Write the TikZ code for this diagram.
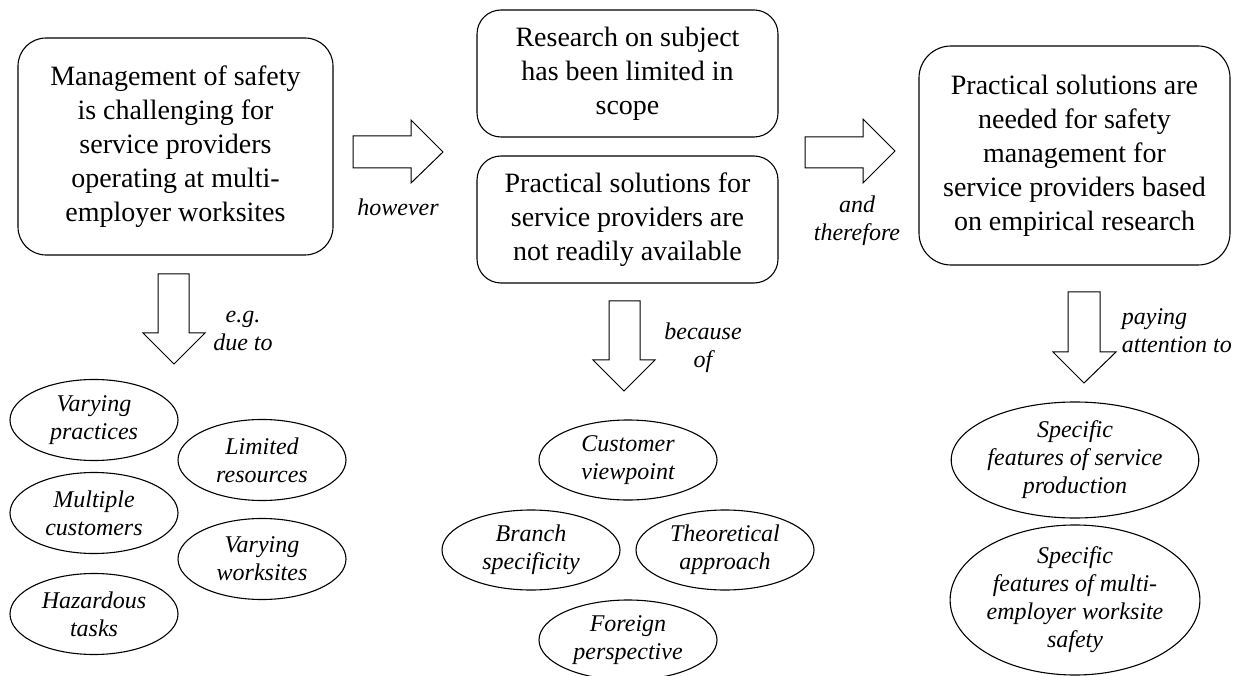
\documentclass[tikz,border=0pt]{standalone}
\usepackage{fontspec}
\setmainfont{Liberation Serif}
\usetikzlibrary{shapes.geometric}

\begin{document}
\begin{tikzpicture}[x=1pt,y=-1pt,line width=1.1pt]
  \tikzset{box/.style={draw,rounded corners=28pt,align=center,inner sep=4pt,font=\fontsize{28}{34}\selectfont},
           oval/.style={draw,ellipse,inner sep=0pt,align=center,font=\fontsize{24}{28}\selectfont\itshape},
           lbl/.style={align=center,font=\fontsize{24}{28}\selectfont\itshape},
           blk/.style={draw,line width=1pt,line join=miter}}
  \useasboundingbox (0,0) rectangle (1248,676);

  % boxes
  \node[box,minimum width=315pt,minimum height=217pt] (mgmt) at (175.5,146.5) {Management of safety\\is challenging for\\service providers\\operating at multi-\\employer worksites};
  \node[box,rounded corners=24pt,minimum width=301pt,minimum height=127pt] (research) at (627.5,73.5) {Research on subject\\has been limited in\\scope};
  \node[box,rounded corners=24pt,minimum width=301pt,minimum height=127pt] (lack) at (627.5,219.5) {Practical solutions for\\service providers are\\not readily available};
  \node[box,rounded corners=32pt,minimum width=311pt,minimum height=219pt] (need) at (1074.5,155.5) {Practical solutions are\\needed for safety\\management for\\service providers based\\on empirical research};

  % block arrows
  \path[blk] (353,136) -- (411,136) -- (411,120) -- (443,152) -- (411,183) -- (411,168) -- (353,168) -- cycle;
  \path[blk] (805,137) -- (863,137) -- (863,119) -- (895,151) -- (863,183) -- (863,168) -- (805,168) -- cycle;
  \path[blk] (158,274) -- (189,274) -- (189,333) -- (205,333) -- (174,364) -- (143,333) -- (158,333) -- cycle;
  \path[blk] (609,301) -- (640,301) -- (640,360) -- (655,360) -- (624,391) -- (593,360) -- (609,360) -- cycle;
  \path[blk] (1068,292) -- (1100,292) -- (1100,352) -- (1116,352) -- (1084,383) -- (1053,352) -- (1068,352) -- cycle;

  % labels
  \node[lbl] (however) at (398,207) {however};
  \node[lbl] (therefore) at (857,221) {and\\therefore};
  \node[lbl] (dueto) at (243,331) {e.g.\\due to};
  \node[lbl] (because) at (703,348) {because\\of};
  \node[lbl,align=left,anchor=west] (paying) at (1118,331) {paying\\attention to};

  % reasons
  \node[oval,minimum width=168pt,minimum height=81pt] (practices) at (94,420) {Varying\\practices};
  \node[oval,minimum width=168pt,minimum height=81pt] (resources) at (262,460) {Limited\\resources};
  \node[oval,minimum width=168pt,minimum height=81pt] (customers) at (94,513) {Multiple\\customers};
  \node[oval,minimum width=168pt,minimum height=81pt] (worksites) at (262,559) {Varying\\worksites};
  \node[oval,minimum width=168pt,minimum height=81pt] (hazardous) at (94,614) {Hazardous\\tasks};

  \node[oval,minimum width=178pt,minimum height=80pt] (viewpoint) at (628,460) {Customer\\viewpoint};
  \node[oval,minimum width=178pt,minimum height=80pt] (branch) at (531,550) {Branch\\specificity};
  \node[oval,minimum width=178pt,minimum height=80pt] (theory) at (725,550) {Theoretical\\approach};
  \node[oval,minimum width=178pt,minimum height=80pt] (foreign) at (628,640) {Foreign\\perspective};

  \node[oval,minimum width=240pt,minimum height=116pt] (service) at (1075,460) {Specific\\features of service\\production};
  \node[oval,minimum width=240pt,minimum height=126pt] (multi) at (1075,600) {Specific\\features of multi-\\employer worksite\\safety};
\end{tikzpicture}
\end{document}
